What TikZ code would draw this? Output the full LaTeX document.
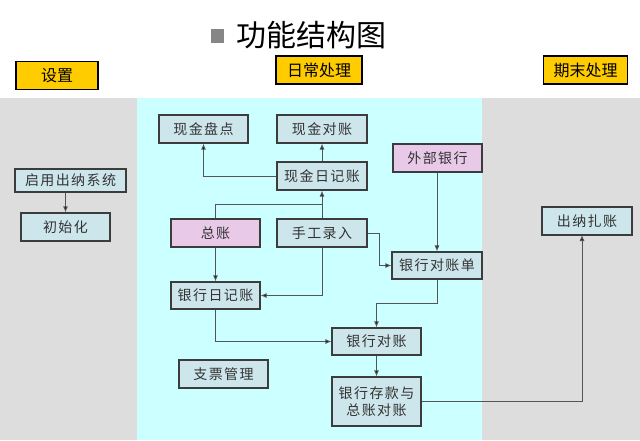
\documentclass[tikz,border=0pt]{standalone}
\usepackage{fontspec}
\setmainfont{Noto Sans CJK SC}
\newfontfamily\cjk[LetterSpace=10]{Noto Sans CJK SC}
\newfontfamily\cjkt{Noto Sans CJK SC}
\usetikzlibrary{arrows.meta,positioning}
\definecolor{boxfill}{RGB}{205,230,236}
\definecolor{pinkfill}{RGB}{232,202,232}
\definecolor{cyanbg}{RGB}{204,255,255}
\definecolor{graybg}{RGB}{221,221,221}
\definecolor{yellowbox}{RGB}{255,204,0}
\definecolor{txt}{RGB}{51,51,51}
\definecolor{edge}{RGB}{60,60,60}
\definecolor{wire}{RGB}{85,85,85}
\tikzset{
  x=1pt,y=-1pt,
  fbox/.style={draw=edge,line width=1.1pt,fill=boxfill,text=txt,font=\cjk\fontsize{14}{17}\selectfont,
    inner sep=0pt,minimum width=89pt,minimum height=28pt,align=center},
  pbox/.style={fbox,fill=pinkfill},
  ybox/.style={draw=black,line width=1.2pt,fill=yellowbox,text=black,font=\cjkt\fontsize{16}{19}\selectfont,
    inner sep=0pt,minimum height=28pt},
  conn/.style={draw=wire,line width=1pt,-{Latex[length=6pt,width=5pt,fill=black]}},
  plain/.style={draw=wire,line width=1pt}
}
\begin{document}
\begin{tikzpicture}
\useasboundingbox (0,0) rectangle (640,440);
\fill[white] (0,0) rectangle (640,440);
\fill[graybg] (0,98) rectangle (640,440);
\fill[cyanbg] (137,98) rectangle (482,440);
% title
\fill[gray!95] (211,29) rectangle (224,43);
\node[anchor=west,inner sep=0pt,font=\cjkt\fontsize{30}{33}\selectfont,text=black] (title) at (236,35) {功能结构图};
% section labels
\node[ybox,minimum width=82pt] (shezhi) at (57,75.5) {设置};
\node[ybox,minimum width=86pt] (richang) at (319,70) {日常处理};
\node[ybox,minimum width=84pt] (qimo) at (585.5,70) {期末处理};
% boxes
\node[fbox,minimum width=111pt,minimum height=23pt] (qiyong) at (70.5,180.5) {启用出纳系统};
\node[fbox] (chushi) at (65.5,227) {初始化};
\node[fbox] (pandian) at (203.5,129) {现金盘点};
\node[fbox,minimum width=90pt] (xjdz) at (322,129) {现金对账};
\node[fbox,minimum width=90pt] (xjrjz) at (322,176) {现金日记账};
\node[pbox] (zongzhang) at (215.5,233) {总账};
\node[fbox,minimum width=90pt] (shougong) at (322,233) {手工录入};
\node[pbox] (waibu) at (437.5,158) {外部银行};
\node[fbox,minimum width=90pt,minimum height=27pt] (dzd) at (437,265.5) {银行对账单};
\node[fbox,minimum height=27pt] (yhrjz) at (215.5,295.5) {银行日记账};
\node[fbox] (zhipiao) at (223.5,374) {支票管理};
\node[fbox,minimum height=27pt] (yhdz) at (376.5,341.5) {银行对账};
\node[fbox,minimum height=49pt] (yhck) at (376.5,401.5) {银行存款与\\总账对账};
\node[fbox,minimum width=90pt] (zhazhang) at (587,221) {出纳扎账};
% connectors
\coordinate (j1) at (322,204);
\coordinate (j2) at (379,233);
\coordinate (j3) at (437,303);
\coordinate (j4) at (376.5,303);
\coordinate (zin) at (582,235);
\draw[conn] (qiyong.south -| chushi.north) -- (chushi.north);
\draw[conn] (xjrjz.west) -| (pandian.south);
\draw[conn] (xjrjz.north) -- (xjdz.south);
\draw[plain] (zongzhang.north) |- (j1);
\draw[conn] (shougong.north) -- (xjrjz.south);
\draw[conn] (zongzhang.south) -- (yhrjz.north);
\draw[conn] (shougong.south) |- (yhrjz.east);
\draw[conn] (shougong.east) -- (j2) |- (dzd.west);
\draw[conn] (waibu.south -| dzd.north) -- (dzd.north);
\draw[conn] (dzd.south) -- (j3) -- (j4) -- (yhdz.north);
\draw[conn] (yhrjz.south) |- (yhdz.west);
\draw[conn] (yhdz.south) -- (yhck.north);
\draw[conn] (yhck.east) -| (zin);
\end{tikzpicture}
\end{document}
